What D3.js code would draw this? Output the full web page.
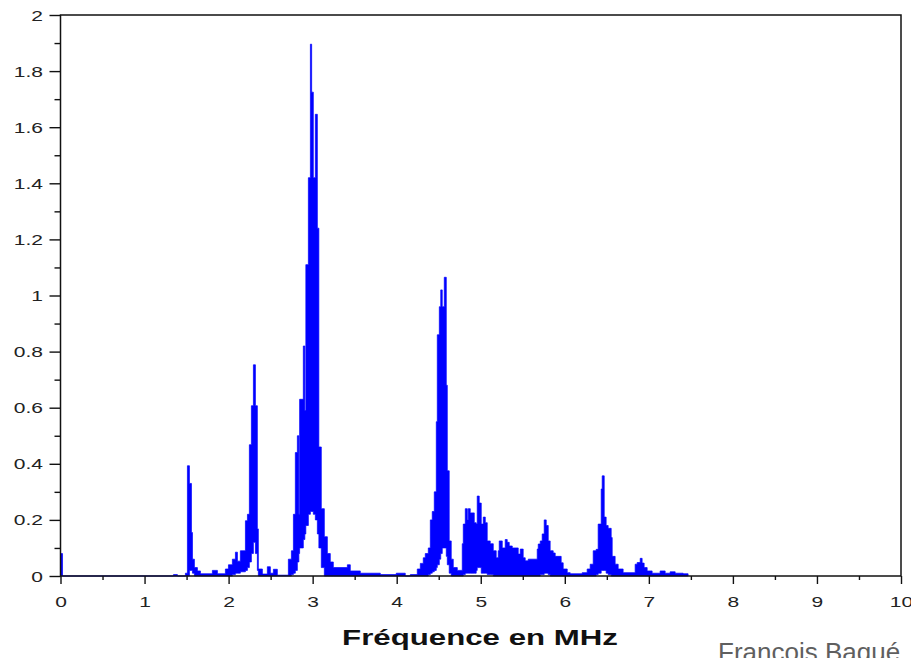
<!DOCTYPE html>
<html>
<head>
<meta charset="utf-8">
<script src="https://cdn.jsdelivr.net/npm/d3@7"></script>
<style>
  body { margin: 0; background: #fff; }
  svg { display: block; }
  text { font-family: "Liberation Sans", Arial, Helvetica, sans-serif; }
</style>
</head>
<body>
<svg id="chart" width="911" height="658"></svg>
<script>
// Amplitude spectrum stored as steps: step i starts at freqMHz[i] and lasts
// until freqMHz[i + 1]; inside a step the trace swings between lower[i] and upper[i].
const freqMHz = [
  0, 0.024, 1.344, 1.391, 1.486, 1.510, 1.534, 1.558, 1.570, 1.593,
  1.629, 1.665, 1.807, 1.867, 1.962, 1.998, 2.045, 2.081, 2.105, 2.140,
  2.200, 2.224, 2.247, 2.271, 2.295, 2.319, 2.342, 2.354, 2.402, 2.461,
  2.497, 2.533, 2.580, 2.711, 2.747, 2.771, 2.794, 2.818, 2.836, 2.845,
  2.889, 2.907, 2.919, 2.949, 2.973, 2.988, 3.008, 3.032, 3.056, 3.074,
  3.103, 3.139, 3.175, 3.210, 3.246, 3.413, 3.448, 3.567, 3.805, 3.995,
  4.102, 4.162, 4.245, 4.281, 4.316, 4.340, 4.376, 4.400, 4.423, 4.447,
  4.471, 4.483, 4.507, 4.524, 4.542, 4.566, 4.590, 4.602, 4.625, 4.649,
  4.673, 4.721, 4.780, 4.792, 4.816, 4.840, 4.851, 4.875, 4.923, 4.946,
  4.958, 4.982, 5.006, 5.030, 5.054, 5.077, 5.113, 5.149, 5.184, 5.208,
  5.220, 5.256, 5.291, 5.315, 5.339, 5.375, 5.446, 5.470, 5.505, 5.529,
  5.565, 5.672, 5.684, 5.708, 5.731, 5.755, 5.779, 5.803, 5.826, 5.862,
  5.886, 5.957, 5.981, 6.029, 6.064, 6.207, 6.266, 6.302, 6.338, 6.373,
  6.397, 6.433, 6.445, 6.469, 6.492, 6.516, 6.552, 6.564, 6.599, 6.635,
  6.694, 6.837, 6.861, 6.897, 6.920, 6.944, 6.980, 7.039, 7.134, 7.194,
  7.253, 7.313, 7.408, 7.467
];

const upper = [
  0.08, 0, 0.005, 0, 0.01, 0.393, 0.33, 0.155, 0.06, 0.03,
  0.018, 0.008, 0.02, 0.008, 0.025, 0.04, 0.06, 0.085, 0.053, 0.09,
  0.197, 0.22, 0.468, 0.607, 0.753, 0.607, 0.168, 0.025, 0.007, 0.033,
  0.01, 0.024, 0.003, 0.06, 0.09, 0.22, 0.44, 0.5, 0.22, 0.63,
  0.82, 0.59, 1.11, 1.42, 1.896, 1.725, 1.42, 1.646, 1.24, 0.46,
  0.24, 0.14, 0.08, 0.05, 0.03, 0.04, 0.018, 0.01, 0.005, 0.01,
  0, 0.005, 0.025, 0.045, 0.065, 0.08, 0.1, 0.2, 0.23, 0.3,
  0.55, 0.86, 0.96, 1.02, 0.96, 1.065, 0.68, 0.375, 0.125, 0.06,
  0.03, 0.02, 0.115, 0.185, 0.24, 0.2, 0.24, 0.225, 0.19, 0.185,
  0.285, 0.26, 0.185, 0.21, 0.19, 0.125, 0.115, 0.09, 0.065, 0.09,
  0.125, 0.1, 0.13, 0.12, 0.107, 0.1, 0.078, 0.096, 0.065, 0.054,
  0.06, 0.096, 0.114, 0.125, 0.15, 0.2, 0.18, 0.125, 0.09, 0.082,
  0.07, 0.047, 0.025, 0.012, 0.008, 0.012, 0.025, 0.042, 0.09, 0.095,
  0.185, 0.31, 0.357, 0.21, 0.18, 0.17, 0.137, 0.07, 0.042, 0.025,
  0.012, 0.042, 0.048, 0.063, 0.046, 0.03, 0.018, 0.01, 0.018, 0.01,
  0.015, 0.01, 0.008, 0
];

const lower = [
  0, 0, 0, 0, 0, 0, 0.02, 0.02, 0.01, 0,
  0, 0, 0, 0, 0, 0, 0.005, 0.01, 0.01, 0.015,
  0.02, 0.03, 0.05, 0.08, 0.12, 0.08, 0.02, 0, 0, 0,
  0, 0, 0, 0, 0.005, 0.01, 0.02, 0.05, 0.08, 0.1,
  0.13, 0.15, 0.18, 0.22, 0.23, 0.23, 0.22, 0.2, 0.15, 0.1,
  0.03, 0, 0, 0, 0, 0, 0, 0, 0, 0,
  0, 0, 0, 0, 0, 0, 0.005, 0.01, 0.015, 0.02,
  0.03, 0.04, 0.06, 0.08, 0.1, 0.1, 0.07, 0.04, 0.01, 0,
  0, 0, 0, 0.005, 0.01, 0.01, 0.01, 0.01, 0.01, 0.02,
  0.03, 0.03, 0.01, 0.01, 0.01, 0.005, 0.005, 0, 0, 0,
  0, 0, 0, 0, 0, 0, 0, 0, 0, 0,
  0, 0, 0, 0.005, 0.005, 0.01, 0.01, 0.005, 0, 0,
  0, 0, 0, 0, 0, 0, 0, 0, 0, 0.005,
  0.01, 0.02, 0.02, 0.02, 0.01, 0.005, 0, 0, 0, 0,
  0, 0, 0, 0, 0, 0, 0, 0, 0, 0,
  0, 0, 0, 0
];

const xTickLabels = ["0", "1", "2", "3", "4", "5", "6", "7", "8", "9", "10"];
const yTickLabels = ["0", "0.2", "0.4", "0.6", "0.8", "1", "1.2", "1.4", "1.6", "1.8", "2"];
const xTitle = "Fréquence en MHz";
const credit = "Francois Baqué";

const svg = d3.select("#chart");

const plotLeft = 60.5, plotRight = 901, plotTop = 15, plotBottom = 576;
const x = d3.scaleLinear().domain([0, 10]).range([plotLeft, plotRight]);
const y = d3.scaleLinear().domain([0, 2]).range([plotBottom, plotTop]);

// Spectrum trace
const steps = freqMHz.map((f, i) => ({ f, hi: upper[i], lo: lower[i] }));
const area = d3.area()
  .x(d => x(d.f))
  .y0(d => y(d.lo))
  .y1(d => y(d.hi))
  .curve(d3.curveStepAfter);

svg.append("path")
  .datum(steps)
  .attr("d", area)
  .attr("fill", "#0000ff")
  .attr("stroke", "#0000ff")
  .attr("stroke-width", 0.7)
  .attr("stroke-linejoin", "miter");

// Glyphs are drawn horizontally stretched
const stretch = 1.5;

// Bottom axis: major ticks with labels, half-unit minor ticks
const xMajor = d3.axisBottom(x)
  .tickValues(d3.range(0, 11))
  .tickFormat((d, i) => xTickLabels[i])
  .tickSize(8)
  .tickSizeOuter(0);
const xMinor = d3.axisBottom(x)
  .tickValues(d3.range(0.5, 10, 1))
  .tickFormat("")
  .tickSize(4)
  .tickSizeOuter(0);

const gxMinor = svg.append("g").attr("transform", `translate(0,${plotBottom})`).call(xMinor);
const gx = svg.append("g").attr("transform", `translate(0,${plotBottom})`).call(xMajor);

// Left axis: major ticks with labels, minor ticks every 0.1
const yMajor = d3.axisLeft(y)
  .tickValues(d3.range(0, 11).map(i => i * 0.2))
  .tickFormat((d, i) => yTickLabels[i])
  .tickSize(11)
  .tickSizeOuter(0);
const yMinor = d3.axisLeft(y)
  .tickValues(d3.range(0, 10).map(i => 0.1 + i * 0.2))
  .tickFormat("")
  .tickSize(6)
  .tickSizeOuter(0);

const gyMinor = svg.append("g").attr("transform", `translate(${plotLeft},0)`).call(yMinor);
const gy = svg.append("g").attr("transform", `translate(${plotLeft},0)`).call(yMajor);

[gx, gxMinor, gy, gyMinor].forEach(g => {
  g.select(".domain").remove();
  g.selectAll(".tick line").attr("stroke", "#111").attr("stroke-width", 1.4);
});

gx.selectAll(".tick text")
  .attr("y", 0).attr("dy", null)
  .attr("transform", `translate(0,31) scale(${stretch},1)`)
  .attr("fill", "#222")
  .style("font-size", "14px");

gy.selectAll(".tick text")
  .attr("x", 0).attr("dy", "0.36em")
  .attr("transform", `translate(-17.5,0) scale(${stretch},1)`)
  .attr("fill", "#222")
  .style("font-size", "14px");

// Plot frame
svg.append("rect")
  .attr("x", plotLeft).attr("y", plotTop)
  .attr("width", plotRight - plotLeft).attr("height", plotBottom - plotTop)
  .attr("fill", "none")
  .attr("stroke", "#111")
  .attr("stroke-width", 1.5);

// Axis title
svg.append("text")
  .attr("text-anchor", "middle")
  .attr("transform", `translate(480,645) scale(1.42,1)`)
  .attr("fill", "#111")
  .style("font-size", "22px")
  .style("font-weight", "bold")
  .text(xTitle);

// Author credit
svg.append("text")
  .attr("x", 718).attr("y", 661)
  .attr("fill", "#5f5f5f")
  .style("font-size", "26px")
  .text(credit);
</script>
</body>
</html>
